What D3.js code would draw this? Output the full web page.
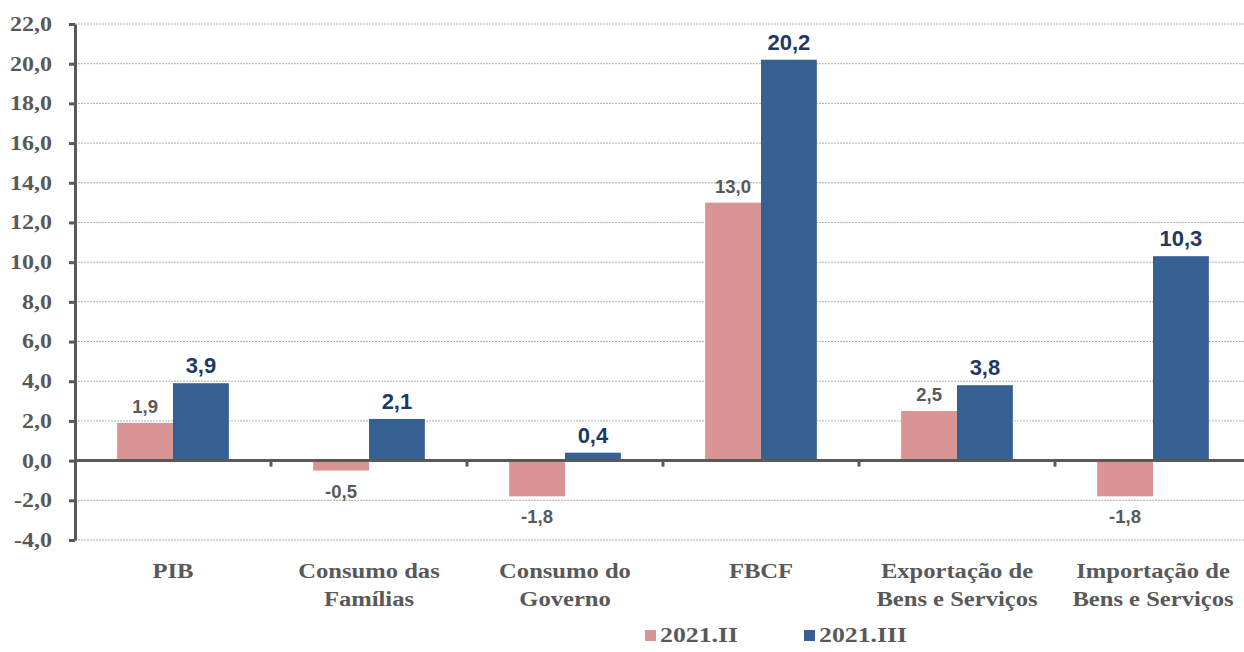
<!DOCTYPE html>
<html>
<head>
<meta charset="utf-8">
<script src="https://cdn.jsdelivr.net/npm/d3@7"></script>
<style>
  body { margin: 0; background: #fff; }
</style>
</head>
<body>
<svg id="chart"></svg>
<script>
const categories = [
  ['PIB'],
  ['Consumo das', 'Famílias'],
  ['Consumo do', 'Governo'],
  ['FBCF'],
  ['Exportação de', 'Bens e Serviços'],
  ['Importação de', 'Bens e Serviços']
];
const seriesNames = ['2021.II', '2021.III'];
const valuesII = [1.9, -0.5, -1.8, 13.0, 2.5, -1.8];
const valuesIII = [3.9, 2.1, 0.4, 20.2, 3.8, 10.3];
const yTicks = [-4, -2, 0, 2, 4, 6, 8, 10, 12, 14, 16, 18, 20, 22];

const W = 1244, H = 652;
const margin = { top: 24, right: -7, bottom: 112, left: 75 };
const width = W - margin.left - margin.right;
const height = H - margin.top - margin.bottom;

const colors = ['#d99594', '#366092'];
const axisColor = '#595959';
const serif = '"Liberation Serif", "Times New Roman", serif';
const sans = '"Liberation Sans", Arial, sans-serif';
const stretch = 1.2; // serif text in the original is drawn wider
const fmt = v => d3.format('.1f')(v).replace('.', ',').replace('\u2212', '-');

const svgRoot = d3.select('#chart').attr('width', W).attr('height', H);
const svg = svgRoot.append('g').attr('transform', `translate(${margin.left},${margin.top})`);

const x = d3.scaleBand().domain(d3.range(categories.length)).range([0, width]).padding(0);
const xs = d3.scaleBand().domain([0, 1]).range([x.bandwidth() * 0.215, x.bandwidth() * 0.785]);
const y = d3.scaleLinear().domain([-4, 22]).range([height, 0]);

// gridlines
svg.append('g')
  .selectAll('line')
  .data(yTicks.filter(d => d !== 0))
  .enter()
  .append('line')
  .attr('x1', 0).attr('x2', width)
  .attr('y1', d => y(d)).attr('y2', d => y(d))
  .attr('stroke', '#b0b0b0')
  .attr('stroke-width', 1)
  .attr('stroke-dasharray', '2,1');

// bars
const data = categories.map((c, i) => [valuesII[i], valuesIII[i]]);
const groups = svg.selectAll('.grp')
  .data(data)
  .enter()
  .append('g')
  .attr('transform', (d, i) => `translate(${x(i)},0)`);

groups.selectAll('rect')
  .data(d => d)
  .enter()
  .append('rect')
  .attr('x', (d, j) => xs(j))
  .attr('width', xs.bandwidth())
  .attr('y', d => y(Math.max(0, d)))
  .attr('height', d => Math.abs(y(d) - y(0)))
  .attr('fill', (d, j) => colors[j]);

// value labels
groups.selectAll('text.val')
  .data(d => d)
  .enter()
  .append('text')
  .attr('class', 'val')
  .attr('x', (d, j) => xs(j) + xs.bandwidth() / 2)
  .attr('y', (d, j) => d >= 0 ? y(d) - (j === 0 ? 10 : 10) : y(d) + 27)
  .attr('text-anchor', 'middle')
  .style('font-family', sans)
  .style('font-weight', 'bold')
  .style('font-size', (d, j) => j === 0 ? '18.5px' : '22px')
  .style('fill', (d, j) => j === 0 ? '#595959' : '#1f3864')
  .text(d => fmt(d));

// y axis
const yAxis = svg.append('g')
  .call(d3.axisLeft(y).tickValues(yTicks).tickFormat(fmt).tickSize(6).tickSizeOuter(0));
yAxis.select('.domain').attr('stroke', axisColor).attr('stroke-width', 3);
yAxis.selectAll('.tick line').attr('stroke', axisColor).attr('stroke-width', 3);
yAxis.selectAll('.tick text')
  .attr('x', -23 / stretch)
  .attr('transform', `scale(${stretch},1)`)
  .style('font-family', serif)
  .style('font-weight', 'bold')
  .style('font-size', '20px')
  .style('fill', '#595959');

// zero axis with category ticks
const zero = svg.append('g').attr('transform', `translate(0,${y(0)})`);
zero.append('line')
  .attr('x1', 0).attr('x2', width)
  .attr('stroke', axisColor).attr('stroke-width', 3);
zero.selectAll('line.tk')
  .data(d3.range(1, categories.length))
  .enter()
  .append('line')
  .attr('class', 'tk')
  .attr('x1', d => x(d)).attr('x2', d => x(d))
  .attr('y1', 0).attr('y2', 6)
  .attr('stroke', axisColor).attr('stroke-width', 3);

// category labels
const catLabels = svg.append('g')
  .selectAll('text')
  .data(categories)
  .enter()
  .append('text')
  .attr('transform', (d, i) => `translate(${x(i) + x.bandwidth() / 2},${height + 38}) scale(${stretch},1)`)
  .attr('text-anchor', 'middle')
  .style('font-family', serif)
  .style('font-weight', 'bold')
  .style('font-size', '20.5px')
  .style('fill', '#595959');
catLabels.selectAll('tspan')
  .data(d => d)
  .enter()
  .append('tspan')
  .attr('x', 0)
  .attr('dy', (d, k) => k === 0 ? 0 : 28)
  .text(d => d);

// legend
const legend = svgRoot.append('g').attr('transform', 'translate(0,642)');
const legendX = [645, 804];
seriesNames.forEach((name, j) => {
  legend.append('rect')
    .attr('x', legendX[j]).attr('y', -12)
    .attr('width', 11).attr('height', 11)
    .attr('fill', colors[j]);
  legend.append('text')
    .attr('transform', `translate(${legendX[j] + 15},0) scale(${stretch},1)`)
    .style('font-family', serif)
    .style('font-weight', 'bold')
    .style('font-size', '21.5px')
    .style('fill', '#595959')
    .text(name);
});
</script>
</body>
</html>
